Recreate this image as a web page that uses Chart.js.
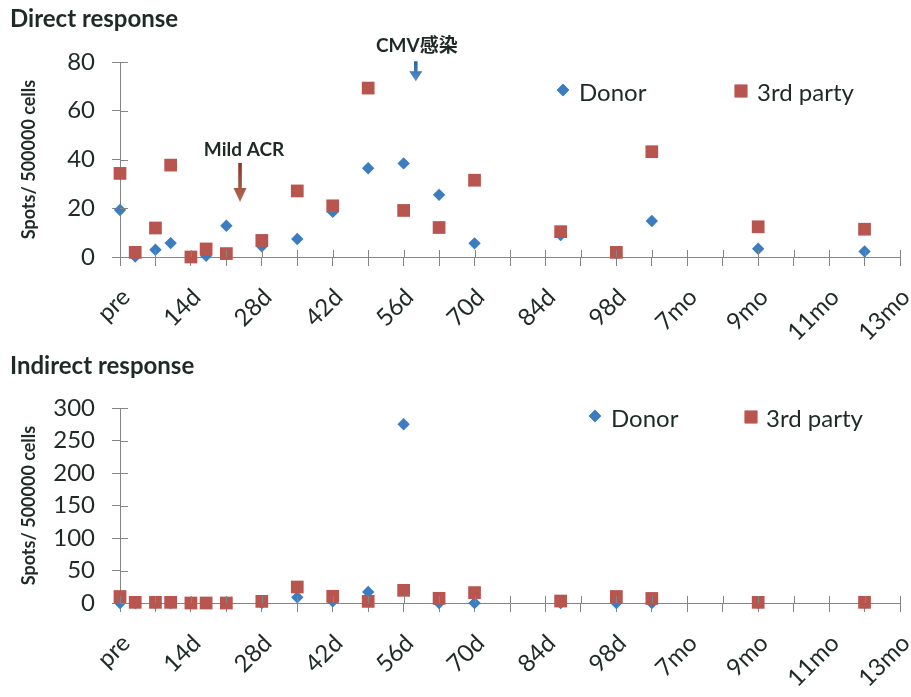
<!DOCTYPE html>
<html>
<head>
<meta charset="utf-8">
<title>Direct and indirect response</title>
<script src="https://cdn.jsdelivr.net/npm/chart.js@4.4.0/dist/chart.umd.min.js"></script>
<style>
  html, body { margin: 0; padding: 0; background: #fff; }
  #page { position: relative; width: 911px; height: 697px; overflow: hidden; background: #fff; }
  .panel { position: absolute; left: 0; width: 911px; }
  .panel h2 { position: absolute; left: 10px; margin: 0; font: bold 24px Lato, "Noto Sans", sans-serif; color: #1f2a26; z-index: 2; line-height: 28px; }
  .panel .box { position: absolute; left: 0; top: 0; width: 911px; }
</style>
</head>
<body>
<div id="page">
  <div class="panel" style="top:0;height:340px">
    <h2 style="top:4px">Direct response</h2>
    <div class="box" style="height:340px"><canvas id="direct"></canvas></div>
  </div>
  <div class="panel" style="top:340px;height:357px">
    <h2 style="top:11px">Indirect response</h2>
    <div class="box" style="height:357px"><canvas id="indirect"></canvas></div>
  </div>
</div>
<script>
// Time axis: one tick per week, a label every two weeks
const tickLabels = ['pre', '14d', '28d', '42d', '56d', '70d', '84d', '98d', '7mo', '9mo', '11mo', '13mo'];

// Day of each ELISPOT sample (0 = pre-transplant)
const sampleDays = [0, 3, 7, 10, 14, 17, 21, 28, 35, 42, 49, 56, 63, 70, 87, 98, 105, 126, 147];

// Spots / 500000 cells
const directDonor    = [19.3, 0.2, 3.0, 5.7, 0, 0.5, 12.8, 4.4, 7.4, 18.5, 36.4, 38.4, 25.5, 5.6, 9.0, 1.5, 14.8, 3.4, 2.3];
const directThird    = [34.3, 1.9, 11.9, 37.7, 0, 3.3, 1.4, 6.8, 27.1, 21.0, 69.3, 19.1, 12.1, 31.5, 10.4, 1.9, 43.2, 12.4, 11.4];
const indirectDonor  = [0, 0, 0, 0, 0, 0, 0, 0, 8.7, 2.5, 17, 275, 0, 0, 0, 0, 0, 0, 0];
const indirectThird  = [10, 1, 1, 1, 0, 0, 0, 2.5, 24.6, 10.3, 2.5, 19.5, 7.2, 16, 3, 10, 7, 1, 1];

const seriesNames = ['Donor', '3rd party'];

const FONT = 'Lato, "Noto Sans", "Noto Sans CJK SC", sans-serif';
const TEXT = '#1f2a26';
const AXIS = '#858585';
const BLUE = '#3b7dc0';
const RED = '#b8554f';

const toPoints = vals => sampleDays.map((d, i) => ({ x: d, y: vals[i] }));

// Tick marks that cross the axis line (Chart.js only draws the outer half)
const crossTicks = {
  id: 'crossTicks',
  afterDatasetsDraw(chart) {
    const { ctx, scales: { x, y } } = chart;
    ctx.save();
    ctx.strokeStyle = AXIS;
    ctx.lineWidth = 1;
    ctx.beginPath();
    x.ticks.forEach(t => {
      const px = Math.round(x.getPixelForValue(t.value)) + 0.5;
      ctx.moveTo(px, y.bottom - 7);
      ctx.lineTo(px, y.bottom);
    });
    y.ticks.forEach(t => {
      const py = Math.round(y.getPixelForValue(t.value)) + 0.5;
      ctx.moveTo(x.left, py);
      ctx.lineTo(x.left + 8, py);
    });
    ctx.stroke();
    ctx.restore();
  }
};

// Legend drawn inside the plot, upper right
const innerLegend = {
  id: 'innerLegend',
  afterDraw(chart, args, opts) {
    const { ctx } = chart;
    ctx.save();
    ctx.font = '24px ' + FONT;
    ctx.textBaseline = 'middle';
    chart.data.datasets.forEach((ds, i) => {
      const it = opts.items[i];
      ctx.fillStyle = ds.backgroundColor;
      ctx.beginPath();
      Chart.helpers.drawPoint(ctx, { pointStyle: ds.pointStyle, radius: ds.pointRadius, rotation: 0, borderWidth: 0 }, it.mx, it.my);
      ctx.fill();
      ctx.fillStyle = TEXT;
      ctx.fillText(ds.label, it.tx, it.ty);
    });
    ctx.restore();
  }
};

// Event markers: label plus a downward arrow, placed in data units
const eventMarks = {
  id: 'eventMarks',
  afterDraw(chart, args, opts) {
    const { ctx, scales: { x, y } } = chart;
    (opts.marks || []).forEach(m => {
      const px = x.getPixelForValue(m.day);
      const yText = y.getPixelForValue(m.textY);
      const yTop = y.getPixelForValue(m.from);
      const yTip = y.getPixelForValue(m.to);
      ctx.save();
      ctx.font = 'bold 19px ' + FONT;
      ctx.fillStyle = TEXT;
      ctx.textAlign = 'center';
      ctx.textBaseline = 'middle';
      ctx.fillText(m.text, px + m.textDx, yText);
      const headLen = Math.min(14, (yTip - yTop) * 0.5);
      const g = ctx.createLinearGradient(0, yTop, 0, yTip);
      g.addColorStop(0, m.color);
      g.addColorStop(1, m.colorEnd);
      ctx.fillStyle = g;
      ctx.fillRect(px - 1.8, yTop, 3.6, yTip - yTop - headLen + 1);
      ctx.beginPath();
      ctx.moveTo(px - 6.5, yTip - headLen);
      ctx.lineTo(px + 6.5, yTip - headLen);
      ctx.lineTo(px, yTip);
      ctx.closePath();
      ctx.fill();
      ctx.restore();
    });
  }
};

function makeChart(id, donor, third, yMax, yStep, axisHeight, topPad, legendItems, marks) {
  return new Chart(document.getElementById(id), {
    type: 'scatter',
    data: {
      datasets: [
        { label: seriesNames[0], data: toPoints(donor), pointStyle: 'rectRot', pointRadius: 6.2,
          backgroundColor: BLUE, borderWidth: 0, pointHoverRadius: 6.2, clip: false, order: 1 },
        { label: seriesNames[1], data: toPoints(third), pointStyle: 'rect', pointRadius: 9,
          backgroundColor: RED, borderWidth: 0, pointHoverRadius: 9, clip: false, order: 0 }
      ]
    },
    options: {
      responsive: true,
      maintainAspectRatio: false,
      animation: false,
      events: [],
      layout: { padding: { top: topPad, right: 11, left: 0, bottom: 0 } },
      plugins: {
        legend: { display: false },
        tooltip: { enabled: false },
        innerLegend: { items: legendItems },
        eventMarks: { marks: marks }
      },
      scales: {
        x: {
          type: 'linear', min: 0, max: 154,
          afterFit: s => { s.height = axisHeight; s.paddingLeft = 0; s.paddingRight = 0; },
          ticks: {
            stepSize: 7, autoSkip: false, maxRotation: 45, minRotation: 45,
            padding: 17, labelOffset: 6, color: TEXT, font: { family: FONT, size: 24 },
            callback: v => (v % 14 === 0 ? tickLabels[v / 14] : '')
          },
          grid: { drawOnChartArea: false, drawTicks: true, tickLength: 9, color: AXIS },
          border: { color: AXIS, width: 1 }
        },
        y: {
          min: 0, max: yMax,
          afterFit: s => { s.width = 120; s.paddingTop = 0; s.paddingBottom = 0; },
          ticks: { stepSize: yStep, padding: 17, color: TEXT, font: { family: FONT, size: 24 } },
          grid: { drawOnChartArea: false, drawTicks: true, tickLength: 8, color: AXIS },
          border: { color: AXIS, width: 1 },
          title: {
            display: true, text: 'Spots/ 500000 cells', color: TEXT,
            font: { family: FONT, size: 18, weight: 'bold' }, padding: { top: 18, bottom: 0 }
          }
        }
      }
    },
    plugins: [crossTicks, innerLegend, eventMarks]
  });
}

makeChart('direct', directDonor, directThird, 80, 20, 83, 62,
  [ { mx: 563, my: 90, tx: 579, ty: 93 }, { mx: 741, my: 91, tx: 757, ty: 93 } ],
  [
    { text: 'Mild ACR', day: 23.7, textDx: 4, textY: 43.9, from: 38.6, to: 22.6, color: '#8e3328', colorEnd: '#b06a55' },
    { text: 'CMV感染', day: 58.4, textDx: 1, textY: 86.8, from: 80.3, to: 72.1, color: '#2563a8', colorEnd: '#5a8fc8' }
  ]);

makeChart('indirect', indirectDonor, indirectThird, 300, 50, 94, 68,
  [ { mx: 595, my: 76, tx: 611, ty: 79 }, { mx: 751, my: 77, tx: 766, ty: 79 } ],
  []);
</script>
</body>
</html>
